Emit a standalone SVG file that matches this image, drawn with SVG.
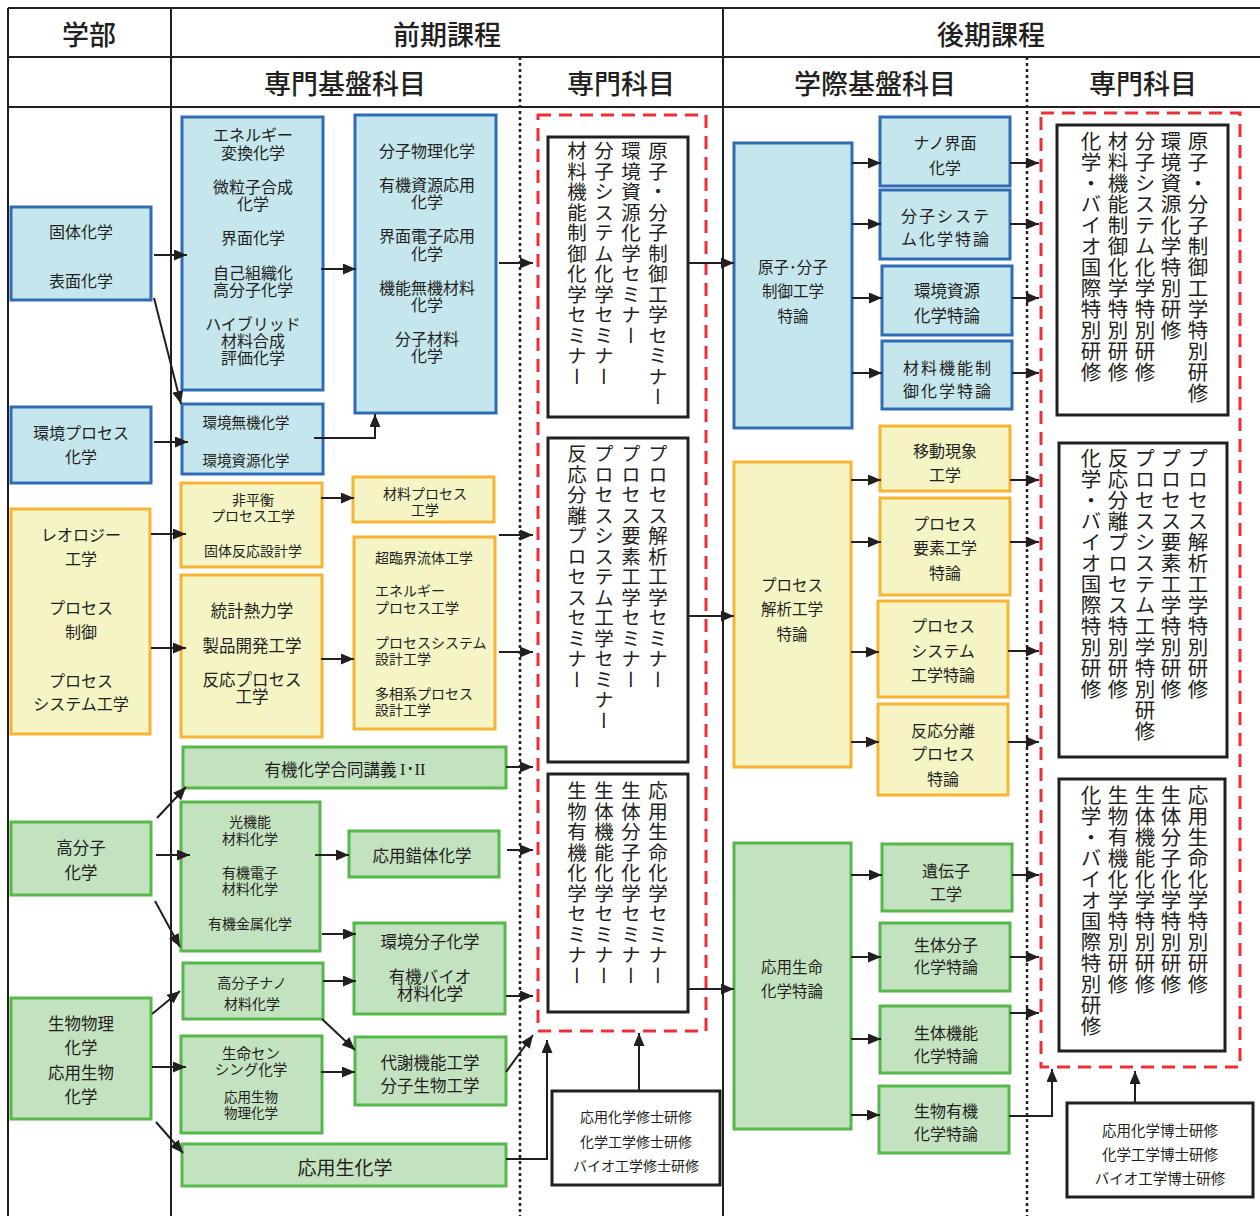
<svg xmlns="http://www.w3.org/2000/svg" width="1260" height="1216" viewBox="0 0 1260 1216">
<defs>
<style>
text{font-family:'Noto Sans CJK JP','Noto Sans CJK SC',sans-serif;fill:#231f20;text-anchor:middle;dominant-baseline:central;font-size:16px}
.h{font-size:27px;font-weight:500}
.s135{font-size:13.5px}.s14{font-size:14px}.s145{font-size:14.5px}.s15{font-size:15px}.s155{font-size:15.5px}.s165{font-size:16.5px}.s19{font-size:19px}
.ls{letter-spacing:2px}
.l{text-anchor:start}
.v{writing-mode:vertical-rl;text-anchor:start;font-size:19.5px;letter-spacing:1px}
.v2{writing-mode:vertical-rl;text-anchor:start;font-size:20.5px;letter-spacing:0.5px}
.blue{fill:#c5e6ed;stroke:#2f6cb5;stroke-width:3}
.yel{fill:#f4f4c5;stroke:#f6b334;stroke-width:3}
.grn{fill:#c3e2bf;stroke:#56b84a;stroke-width:3}
.blk{fill:#fff;stroke:#231f20;stroke-width:3}
.red{fill:none;stroke:#ee2f37;stroke-width:3;stroke-dasharray:13 8}
.grid{stroke:#231f20;stroke-width:2;fill:none}
.dot{stroke:#231f20;stroke-width:2.5;stroke-dasharray:3 3;fill:none}
.c{stroke:#231f20;stroke-width:2;fill:none;marker-end:url(#ah)}
</style>
<marker id="ah" markerUnits="userSpaceOnUse" viewBox="0 0 13 11" refX="13" refY="5.5" markerWidth="13" markerHeight="11" orient="auto">
<path d="M0,0 L13,5.5 L0,11 Z" fill="#231f20"/>
</marker>
</defs>
<rect width="1260" height="1216" fill="#fff"/>
<g id="grid">
<path class="grid" d="M8,8 H1260 M8,57 H1260 M8,107 H1260 M8,8 V1216 M171,8 V1216 M723,8 V1216"/>
<path class="dot" d="M520,57 V1216 M1027,57 V1216"/>
<text class="h" x="89" y="33">学部</text>
<text class="h" x="447" y="33">前期課程</text>
<text class="h" x="991" y="33">後期課程</text>
<text class="h" x="345" y="82">専門基盤科目</text>
<text class="h" x="621" y="82">専門科目</text>
<text class="h" x="875" y="82">学際基盤科目</text>
<text class="h" x="1143" y="82">専門科目</text>
</g>

<g id="n_kotai"><rect class="blue" x="11" y="207" width="140" height="93"/>
<text x="81" y="231">固体化学</text><text x="81" y="280">表面化学</text></g>
<g id="n_kankyoproc"><rect class="blue" x="11" y="407" width="140" height="76"/>
<text x="81" y="432">環境プロセス</text><text x="81" y="456">化学</text></g>
<g id="n_reo"><rect class="yel" x="11" y="509" width="139" height="225"/>
<text x="81" y="534">レオロジー</text><text x="81" y="558">工学</text>
<text x="81" y="607">プロセス</text><text x="81" y="631">制御</text>
<text x="81" y="680">プロセス</text><text x="81" y="703">システム工学</text></g>
<g id="n_kobunshi"><rect class="grn" x="11" y="822" width="140" height="73"/>
<text class="s165" x="81" y="847">高分子</text><text class="s165" x="81" y="872">化学</text></g>
<g id="n_seibutsu"><rect class="grn" x="11" y="998" width="140" height="121"/>
<text class="s165" x="81" y="1023">生物物理</text><text class="s165" x="81" y="1047">化学</text>
<text class="s165" x="81" y="1072">応用生物</text><text class="s165" x="81" y="1096">化学</text></g>

<g id="n_energy"><rect class="blue" x="182" y="117" width="141" height="273"/>
<text x="253" y="134">エネルギー</text><text x="253" y="152">変換化学</text>
<text x="253" y="186">微粒子合成</text><text x="253" y="203">化学</text>
<text x="253" y="237">界面化学</text>
<text x="253" y="272">自己組織化</text><text x="253" y="289">高分子化学</text>
<text x="253" y="323">ハイブリッド</text><text x="253" y="340">材料合成</text><text x="253" y="357">評価化学</text></g>
<g id="n_kankyomuki"><rect class="blue" x="182" y="404" width="141" height="70"/>
<text class="s145" x="246" y="421">環境無機化学</text><text class="s145" x="246" y="459">環境資源化学</text></g>
<g id="n_bunshi"><rect class="blue" x="355" y="115" width="141" height="298"/>
<text x="427" y="150">分子物理化学</text>
<text x="427" y="184">有機資源応用</text><text x="427" y="201">化学</text>
<text x="427" y="235">界面電子応用</text><text x="427" y="253">化学</text>
<text x="427" y="287">機能無機材料</text><text x="427" y="304">化学</text>
<text x="427" y="338">分子材料</text><text x="427" y="355">化学</text></g>

<g id="n_hiheiko"><rect class="yel" x="181" y="483" width="141" height="84"/>
<text class="s14" x="253" y="499">非平衡</text><text class="s14" x="253" y="515">プロセス工学</text>
<text class="s14" x="253" y="550">固体反応設計学</text></g>
<g id="n_zairyoproc"><rect class="yel" x="353" y="477" width="141" height="45"/>
<text class="s14" x="425" y="493">材料プロセス</text><text class="s14" x="425" y="509">工学</text></g>
<g id="n_tokei"><rect class="yel" x="181" y="575" width="141" height="162"/>
<text class="s165" x="252" y="610">統計熱力学</text><text class="s165" x="252" y="645">製品開発工学</text>
<text class="s165" x="252" y="679">反応プロセス</text><text class="s165" x="252" y="696">工学</text></g>
<g id="n_chorinkai"><rect class="yel" x="354" y="537" width="141" height="192"/>
<text class="s14 l" x="375" y="557">超臨界流体工学</text>
<text class="s14 l" x="375" y="590">エネルギー</text><text class="s14 l" x="375" y="607">プロセス工学</text>
<text class="s14 l" x="375" y="642">プロセスシステム</text><text class="s14 l" x="375" y="658">設計工学</text>
<text class="s14 l" x="375" y="693">多相系プロセス</text><text class="s14 l" x="375" y="709">設計工学</text></g>

<g id="n_yuki"><rect class="grn" x="183" y="747" width="323" height="41"/>
<text class="s165" x="345" y="769">有機化学合同講義 <tspan font-family="'Liberation Serif',serif">I･II</tspan></text></g>
<g id="n_hikari"><rect class="grn" x="181" y="802" width="139" height="149"/>
<text class="s14" x="250" y="821">光機能</text><text class="s14" x="250" y="838">材料化学</text>
<text class="s14" x="250" y="872">有機電子</text><text class="s14" x="250" y="888">材料化学</text>
<text class="s14" x="250" y="923">有機金属化学</text></g>
<g id="n_sakutai"><rect class="grn" x="349" y="831" width="150" height="46"/>
<text class="s165" x="422" y="855">応用錯体化学</text></g>
<g id="n_kankyobunshi"><rect class="grn" x="354" y="923" width="151" height="91"/>
<text class="s165" x="430" y="941">環境分子化学</text>
<text class="s165" x="430" y="976">有機バイオ</text><text class="s165" x="430" y="993">材料化学</text></g>
<g id="n_nano"><rect class="grn" x="183" y="963" width="140" height="56"/>
<text class="s14" x="252" y="982">高分子ナノ</text><text class="s14" x="252" y="1003">材料化学</text></g>
<g id="n_taisha"><rect class="grn" x="355" y="1037" width="151" height="68"/>
<text class="s165" x="430" y="1062">代謝機能工学</text><text class="s165" x="430" y="1085">分子生物工学</text></g>
<g id="n_sensing"><rect class="grn" x="181" y="1036" width="141" height="97"/>
<text class="s145" x="251" y="1052">生命セン</text><text class="s145" x="251" y="1068">シング化学</text>
<text class="s135" x="251" y="1096">応用生物</text><text class="s135" x="251" y="1112">物理化学</text></g>
<g id="n_seika"><rect class="grn" x="182" y="1144" width="324" height="42"/>
<text class="s19" x="345" y="1166">応用生化学</text></g>

<g id="n_seminar_group"><rect class="red" x="538" y="115" width="168" height="916"/></g>
<g id="n_sem1"><rect class="blk" x="548" y="137" width="140" height="280"/>
<text class="v" x="658" y="141">原子・分子制御工学セミナー</text>
<text class="v" x="631" y="141">環境資源化学セミナー</text>
<text class="v" x="604" y="141">分子システム化学セミナー</text>
<text class="v" x="577" y="141">材料機能制御化学セミナー</text></g>
<g id="n_sem2"><rect class="blk" x="548" y="438" width="140" height="324"/>
<text class="v" x="658" y="444">プロセス解析工学セミナー</text>
<text class="v" x="631" y="444">プロセス要素工学セミナー</text>
<text class="v" x="604" y="444">プロセスシステム工学セミナー</text>
<text class="v" x="577" y="444">反応分離プロセスセミナー</text></g>
<g id="n_sem3"><rect class="blk" x="548" y="774" width="140" height="238"/>
<text class="v" x="658" y="781">応用生命化学セミナー</text>
<text class="v" x="631" y="781">生体分子化学セミナー</text>
<text class="v" x="604" y="781">生体機能化学セミナー</text>
<text class="v" x="577" y="781">生物有機化学セミナー</text></g>
<g id="n_master"><rect class="blk" x="552" y="1091" width="168" height="94"/>
<text class="s14" x="636" y="1116">応用化学修士研修</text>
<text class="s14" x="636" y="1141">化学工学修士研修</text>
<text class="s14" x="636" y="1165">バイオ工学修士研修</text></g>

<g id="n_genshi"><rect class="blue" x="734" y="143" width="118" height="285"/>
<text class="s155" x="793" y="266">原子･分子</text><text class="s155" x="793" y="290">制御工学</text><text class="s155" x="793" y="315">特論</text></g>
<g id="n_nanokaimen"><rect class="blue" x="880" y="117" width="130" height="69"/>
<text x="945" y="142">ナノ界面</text><text x="945" y="167">化学</text></g>
<g id="n_bunshisys"><rect class="blue" x="880" y="190" width="130" height="69"/>
<text class="ls" x="946" y="215">分子システ</text><text class="ls" x="946" y="238">ム化学特論</text></g>
<g id="n_kankyoshigen"><rect class="blue" x="882" y="266" width="130" height="69"/>
<text class="s165" x="947" y="290">環境資源</text><text class="s165" x="947" y="315">化学特論</text></g>
<g id="n_zairyokino"><rect class="blue" x="882" y="341" width="130" height="68"/>
<text class="ls" x="948" y="367">材料機能制</text><text class="ls" x="948" y="390">御化学特論</text></g>

<g id="n_procanal"><rect class="yel" x="734" y="462" width="117" height="305"/>
<text class="s155" x="792" y="584">プロセス</text><text class="s155" x="792" y="608">解析工学</text><text class="s155" x="792" y="633">特論</text></g>
<g id="n_ido"><rect class="yel" x="880" y="426" width="130" height="65"/>
<text x="945" y="450">移動現象</text><text x="945" y="474">工学</text></g>
<g id="n_yoso"><rect class="yel" x="880" y="498" width="130" height="97"/>
<text x="945" y="523">プロセス</text><text x="945" y="547">要素工学</text><text x="945" y="572">特論</text></g>
<g id="n_procsys"><rect class="yel" x="878" y="601" width="130" height="96"/>
<text x="943" y="625">プロセス</text><text x="943" y="650">システム</text><text x="943" y="674">工学特論</text></g>
<g id="n_hanno"><rect class="yel" x="878" y="704" width="130" height="91"/>
<text x="943" y="730">反応分離</text><text x="943" y="753">プロセス</text><text x="943" y="778">特論</text></g>

<g id="n_oyoseimei"><rect class="grn" x="734" y="843" width="117" height="286"/>
<text class="s155" x="792" y="966">応用生命</text><text class="s155" x="792" y="990">化学特論</text></g>
<g id="n_idenshi"><rect class="grn" x="882" y="844" width="130" height="67"/>
<text x="946" y="870">遺伝子</text><text x="946" y="893">工学</text></g>
<g id="n_seitaibunshi"><rect class="grn" x="880" y="923" width="130" height="68"/>
<text x="946" y="944">生体分子</text><text x="946" y="966">化学特論</text></g>
<g id="n_seitaikino"><rect class="grn" x="880" y="1006" width="130" height="67"/>
<text x="946" y="1032">生体機能</text><text x="946" y="1055">化学特論</text></g>
<g id="n_seibutsuyuki"><rect class="grn" x="879" y="1086" width="130" height="67"/>
<text x="946" y="1110">生物有機</text><text x="946" y="1133">化学特論</text></g>

<g id="n_special_group"><rect class="red" x="1041" y="113" width="199" height="954"/></g>
<g id="n_sp1"><rect class="blk" x="1057" y="125" width="171" height="290"/>
<text class="v2" x="1198" y="131">原子・分子制御工学特別研修</text>
<text class="v2" x="1171" y="131">環境資源化学特別研修</text>
<text class="v2" x="1145" y="131">分子システム化学特別研修</text>
<text class="v2" x="1118" y="131">材料機能制御化学特別研修</text>
<text class="v2" x="1091" y="131">化学・バイオ国際特別研修</text></g>
<g id="n_sp2"><rect class="blk" x="1059" y="443" width="168" height="314"/>
<text class="v2" x="1198" y="448">プロセス解析工学特別研修</text>
<text class="v2" x="1171" y="448">プロセス要素工学特別研修</text>
<text class="v2" x="1145" y="448">プロセスシステム工学特別研修</text>
<text class="v2" x="1118" y="448">反応分離プロセス特別研修</text>
<text class="v2" x="1091" y="448">化学・バイオ国際特別研修</text></g>
<g id="n_sp3"><rect class="blk" x="1059" y="779" width="166" height="272"/>
<text class="v2" x="1198" y="785">応用生命化学特別研修</text>
<text class="v2" x="1171" y="785">生体分子化学特別研修</text>
<text class="v2" x="1145" y="785">生体機能化学特別研修</text>
<text class="v2" x="1118" y="785">生物有機化学特別研修</text>
<text class="v2" x="1091" y="785">化学・バイオ国際特別研修</text></g>
<g id="n_doctor"><rect class="blk" x="1067" y="1103" width="186" height="94"/>
<text class="s145" x="1160" y="1129">応用化学博士研修</text>
<text class="s145" x="1160" y="1153">化学工学博士研修</text>
<text class="s145" x="1160" y="1177">バイオ工学博士研修</text></g>

<g id="connectors">
<path class="c" d="M154,255 H187"/>
<path class="c" d="M154,298 L181,404"/>
<path class="c" d="M154,442 H188"/>
<path class="c" d="M314,438 H375 V414"/>
<path class="c" d="M321,269 H356"/>
<path class="c" d="M499,263 H533"/>
<path class="c" d="M688,263 H734"/>
<path class="c" d="M151,534 H186"/>
<path class="c" d="M151,648 H186"/>
<path class="c" d="M321,498 H354"/>
<path class="c" d="M321,659 H354"/>
<path class="c" d="M499,535 H533"/>
<path class="c" d="M499,652 H533"/>
<path class="c" d="M688,616 H734"/>
<path class="c" d="M506,767 H533"/>
<path class="c" d="M507,850 H533"/>
<path class="c" d="M506,996 H533"/>
<path class="c" d="M506,1072 L533,1035"/>
<path class="c" d="M506,1159 H547 V1040"/>
<path class="c" d="M639,1090 V1033"/>
<path class="c" d="M688,989 H734"/>
<path class="c" d="M157,818 L186,787"/>
<path class="c" d="M156,855 H190"/>
<path class="c" d="M155,901 L180,947"/>
<path class="c" d="M315,855 H349"/>
<path class="c" d="M322,934 H356"/>
<path class="c" d="M323,981 H356"/>
<path class="c" d="M322,1019 L355,1050"/>
<path class="c" d="M321,1072 H355"/>
<path class="c" d="M152,1014 L180,991"/>
<path class="c" d="M152,1067 H186"/>
<path class="c" d="M156,1122 L183,1153"/>
<path class="c" d="M852,163 H881"/>
<path class="c" d="M852,224 H881"/>
<path class="c" d="M852,298 H882"/>
<path class="c" d="M852,373 H882"/>
<path class="c" d="M1010,163 H1039"/>
<path class="c" d="M1010,224 H1039"/>
<path class="c" d="M1012,298 H1039"/>
<path class="c" d="M1012,373 H1039"/>
<path class="c" d="M851,480 H881"/>
<path class="c" d="M851,542 H881"/>
<path class="c" d="M851,652 H879"/>
<path class="c" d="M851,742 H879"/>
<path class="c" d="M1010,480 H1039"/>
<path class="c" d="M1010,542 H1039"/>
<path class="c" d="M1008,651 H1039"/>
<path class="c" d="M1008,742 H1039"/>
<path class="c" d="M851,875 H882"/>
<path class="c" d="M851,957 H881"/>
<path class="c" d="M851,1039 H881"/>
<path class="c" d="M851,1115 H880"/>
<path class="c" d="M1012,875 H1039"/>
<path class="c" d="M1010,957 H1039"/>
<path class="c" d="M1010,1013 H1039"/>
<path class="c" d="M1009,1116 H1052 V1069"/>
<path class="c" d="M1135,1103 V1071"/>
</g>
</svg>
